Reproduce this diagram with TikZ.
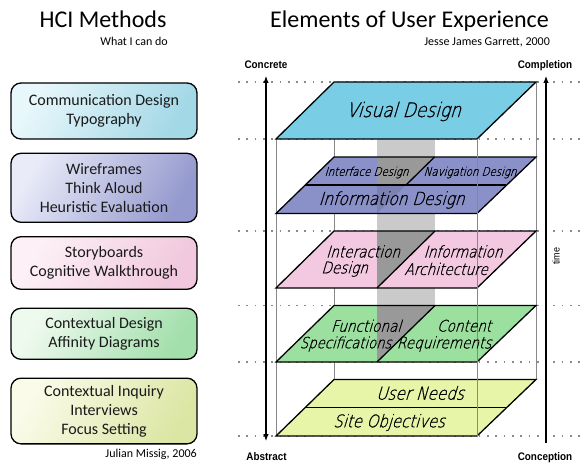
\documentclass[tikz,border=0pt]{standalone}
\usepackage{fontspec}
\setmainfont{Carlito}
\newfontfamily\layerfont[FakeSlant=0.3,FakeStretch=0.85,FakeBold=0.8]{DejaVu Sans ExtraLight}
\newfontfamily\labfont[FakeStretch=0.9]{Liberation Sans}
\usetikzlibrary{arrows.meta}
\definecolor{vdcol}{HTML}{79CDE5}
\definecolor{idcol}{HTML}{8A91C8}
\definecolor{pkcol}{HTML}{F3C8E1}
\definecolor{grcol}{HTML}{9CE0A0}
\definecolor{ylcol}{HTML}{E6F5A8}
\definecolor{dkgray}{HTML}{999999}
\definecolor{ltgray}{HTML}{CACACA}
\definecolor{edgegray}{HTML}{888888}
\definecolor{dotgray}{HTML}{8A8A8A}
\definecolor{txtcol}{HTML}{1A1A1A}
\definecolor{baa}{HTML}{E8F7FB}\definecolor{bab}{HTML}{A3D8E6}
\definecolor{bba}{HTML}{E9EBF8}\definecolor{bbb}{HTML}{959ACE}
\definecolor{bca}{HTML}{FDF1F7}\definecolor{bcb}{HTML}{F1C8DD}
\definecolor{bda}{HTML}{EFFAEF}\definecolor{bdb}{HTML}{A3DFAC}
\definecolor{bea}{HTML}{FAFBE9}\definecolor{beb}{HTML}{DCE6A4}
\tikzset{
  layeredge/.style={draw=black, line width=1.3pt, line join=miter},
  vline/.style={draw=edgegray, line width=1pt},
  dotline/.style={draw=dotgray, line width=1.7pt, dash pattern=on 1.7pt off 6.6pt},
  hcibox/.style={draw=black, line width=1.3pt, rounded corners=10pt, minimum width=186pt,
    align=center, inner sep=0pt, text=txtcol, font=\fontsize{16}{19}\selectfont},
  lyrtext/.style={inner sep=0pt, text=black},
  axlabel/.style={font=\labfont\bfseries\fontsize{11}{11}\selectfont, anchor=base},
  axarrow/.style={line width=1.1pt, draw=black},
  axtip/.tip={Latex[length=7pt,width=5.5pt]}
}
\begin{document}
\begin{tikzpicture}[x=1pt,y=-1pt]
\useasboundingbox (0,0) rectangle (585,465);
\fill[white] (0,0) rectangle (585,465);

% dotted guide lines
\foreach \yy/\nm in {82/a,139/b,231/c,305.5/d,362/e,436/f}{
  \coordinate (dl\nm) at (238,\yy);
  \coordinate (dr\nm) at (585,\yy);
  \draw[dotline] (dl\nm) -- (dr\nm);
}

% gray column behind layers
\fill[ltgray] (377,139) rectangle (435,305.5);

% back box edges
\draw[vline] (276,139) -- (276,436);
\draw[vline] (334,82) -- (334,379.5);
\draw[vline] (536,82) -- (536,379.5);

% layer fills
\foreach \yt/\yb/\cc in {82/139/vdcol,157/213.5/idcol,231/288/pkcol,305.5/362/grcol,379.5/436/ylcol}{
  \fill[\cc] (276,\yb) -- (477,\yb) -- (536,\yt) -- (334,\yt) -- cycle;
}

% darker parts where the column shows through
\fill[dkgray] (377,157) -- (434.5,157) -- (406,185) -- (377,185) -- cycle;
\fill[black, opacity=0.1] (377,185) -- (406,185) -- (377,213.5) -- cycle;
\fill[dkgray] (377,231) -- (435,231) -- (377,288) -- cycle;
\fill[dkgray] (377,305.5) -- (435,305.5) -- (377,362) -- cycle;

% layer outlines
\foreach \yt/\yb in {82/139,157/213.5,231/288,305.5/362,379.5/436}{
  \draw[layeredge] (276,\yb) -- (477,\yb) -- (536,\yt) -- (334,\yt) -- cycle;
}
\draw[layeredge] (305.3,185) -- (506.3,185);
\draw[layeredge] (434.5,157) -- (406,185);
\draw[layeredge] (435,231) -- (377,288);
\draw[layeredge] (435,305.5) -- (377,362);
\draw[layeredge] (305.8,407.8) -- (506.8,407.8);

% front right edge
\draw[vline] (477,139) -- (477,436);

% layer labels
\node[lyrtext, font=\layerfont\fontsize{20}{20}\selectfont] (vd) at (403.5,111.5) {Visual Design};
\node[lyrtext, font=\layerfont\fontsize{12}{12}\selectfont] (ifd) at (366.5,172.5) {Interface Design};
\node[lyrtext, font=\layerfont\fontsize{12}{12}\selectfont] (nvd) at (470,172.5) {Navigation Design};
\node[lyrtext, font=\layerfont\fontsize{18}{18}\selectfont] (infd) at (391.5,200) {Information Design};
\node[lyrtext, font=\layerfont\fontsize{16}{16}\selectfont] (ixa) at (363,251.5) {Interaction};
\node[lyrtext, font=\layerfont\fontsize{16}{16}\selectfont] (ixb) at (344.5,269) {Design};
\node[lyrtext, font=\layerfont\fontsize{16}{16}\selectfont] (iaa) at (463,251.5) {Information};
\node[lyrtext, font=\layerfont\fontsize{16}{16}\selectfont] (iab) at (446,269) {Architecture};
\node[lyrtext, font=\layerfont\fontsize{16}{16}\selectfont] (fsa) at (366,325.8) {Functional};
\node[lyrtext, font=\layerfont\fontsize{15.5}{15.5}\selectfont] (fsb) at (345.5,344) {Specifications};
\node[lyrtext, font=\layerfont\fontsize{16}{16}\selectfont] (cra) at (464,325.8) {Content};
\node[lyrtext, font=\layerfont\fontsize{16}{16}\selectfont] (crb) at (444,344) {Requirements};
\node[lyrtext, font=\layerfont\fontsize{18}{18}\selectfont] (un) at (420,393) {User Needs};
\node[lyrtext, font=\layerfont\fontsize{17.5}{17.5}\selectfont] (so) at (389,422.5) {Site Objectives};

% axes
\coordinate (latop) at (266,76);
\coordinate (labot) at (266,441);
\draw[axarrow, axtip-axtip] (latop) -- (labot);
\coordinate (ratop) at (546,76);
\coordinate (rabot) at (546,443);
\draw[axarrow, -axtip] (rabot) -- (ratop);
\node[axlabel] (conc) at (266,69) {Concrete};
\node[axlabel] (compl) at (545,69) {Completion};
\node[axlabel] (abst) at (266.5,460) {Abstract};
\node[axlabel] (concep) at (545,460) {Conception};
\node[font=\labfont\fontsize{10}{10}\selectfont, rotate=90, inner sep=0pt] (time) at (556,256) {time};

% titles
\node[anchor=base, font=\fontsize{24}{24}\selectfont, inner sep=0pt] (t1) at (103,28) {HCI Methods};
\node[anchor=base east, font=\fontsize{12}{12}\selectfont, inner sep=0pt] (t1s) at (168,46) {What I can do};
\node[anchor=base, font=\fontsize{24}{24}\selectfont, inner sep=0pt] (t2) at (409.5,28) {Elements of User Experience};
\node[anchor=base east, font=\fontsize{12}{12}\selectfont, inner sep=0pt] (t2s) at (550,46) {Jesse James Garrett, 2000};
\node[anchor=base east, font=\fontsize{12}{12}\selectfont, inner sep=0pt] (jm) at (197,457) {Julian Missig, 2006};

% HCI method boxes
\node[hcibox, top color=baa, bottom color=bab, shading angle=60, minimum height=56pt] (m1) at (104,111) {Communication Design\\Typography};
\node[hcibox, top color=bba, bottom color=bbb, shading angle=60, minimum height=69pt] (m2) at (104,187.8) {Wireframes\\Think Aloud\\Heuristic Evaluation};
\node[hcibox, top color=bca, bottom color=bcb, shading angle=60, minimum height=52.6pt] (m3) at (104,263) {Storyboards\\Cognitive Walkthrough};
\node[hcibox, top color=bda, bottom color=bdb, shading angle=60, minimum height=51pt] (m4) at (104,333.8) {Contextual Design\\Affinity Diagrams};
\node[hcibox, top color=bea, bottom color=beb, shading angle=60, minimum height=65.7pt] (m5) at (104,411) {Contextual Inquiry\\Interviews\\Focus Setting};
\end{tikzpicture}
\end{document}
